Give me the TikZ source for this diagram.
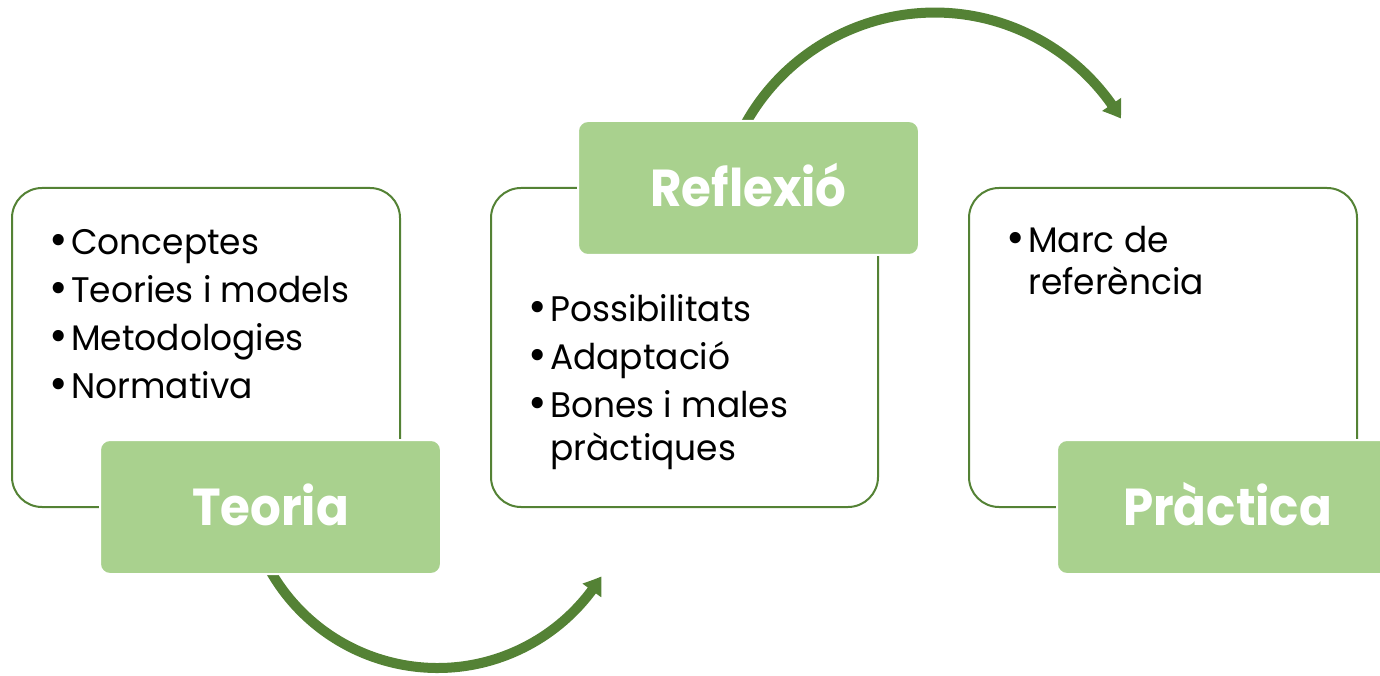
\documentclass[tikz,border=0pt]{standalone}
\usepackage{fontspec}
\setmainfont{Poppins}
\newfontfamily\labelfont[FakeStretch=0.93]{Poppins Bold}
\newfontfamily\itemfont[FakeStretch=0.97]{Poppins}
\usetikzlibrary{arrows.meta,bending}
\definecolor{dkgreen}{HTML}{548235}
\definecolor{ltgreen}{HTML}{A9D18E}
\tikzset{
  outlinebox/.style={draw=dkgreen,line width=2pt,rounded corners=30pt,fill=white},
  labelbox/.style={draw=white,line width=2pt,fill=ltgreen,rounded corners=10pt},
  labeltext/.style={text=white,font=\labelfont\fontsize{52}{60}\selectfont,inner sep=0pt,anchor=base},
  itemtext/.style={text=black,font=\itemfont\fontsize{35.5}{42}\selectfont,inner sep=0pt,anchor=base west,align=left},
  cyclearrow/.style={draw=dkgreen,line width=10pt,-{Triangle[width=22pt,length=17pt,bend]}}
}
\newcommand{\bul}{\llap{\raisebox{-1pt}{\scalebox{1.3}{\textbullet}}\hspace{3pt}}}
\begin{document}
\begin{tikzpicture}[x=1pt,y=1pt]
\useasboundingbox (0,0) rectangle (1380,675);
% outline boxes
\draw[outlinebox] (12,168) rectangle (400,487);
\draw[outlinebox] (491,168) rectangle (878,487);
\draw[outlinebox] (969,168) rectangle (1357,487);
% arrows
\coordinate (a1s) at (267.6,109.1);
\coordinate (a2s) at (743.4,547.5);
\draw[cyclearrow] (a1s) arc[start angle=208,end angle=328.4,radius=192.4];
\draw[cyclearrow] (a2s) arc[start angle=152,end angle=30.7,radius=216.6];
% label boxes
\draw[labelbox] (100,101) rectangle (441,235);
\draw[labelbox] (578,420) rectangle (919,554);
\draw[labelbox] (1057,101) rectangle (1398,235);
\node[labeltext] (teoria) at (270.5,150) {Teoria};
\node[labeltext] (reflexio) at (748.5,468) {Reflexió};
\node[labeltext] (practica) at (1227.5,150) {Pràctica};
% items
\node[itemtext] (t1) at (71,420) {\bul Conceptes};
\node[itemtext] (t2) at (71,372) {\bul Teories i models};
\node[itemtext] (t3) at (71,324) {\bul Metodologies};
\node[itemtext] (t4) at (71,276) {\bul Normativa};
\node[itemtext] (r1) at (550,353) {\bul Possibilitats};
\node[itemtext] (r2) at (550,305) {\bul Adaptació};
\node[itemtext] (r3) at (550,258) {\bul Bones i males};
\node[itemtext] (r4) at (550,215) {pràctiques};
\node[itemtext] (p1) at (1028,422) {\bul Marc de};
\node[itemtext] (p2) at (1028,380) {referència};
\end{tikzpicture}
\end{document}
